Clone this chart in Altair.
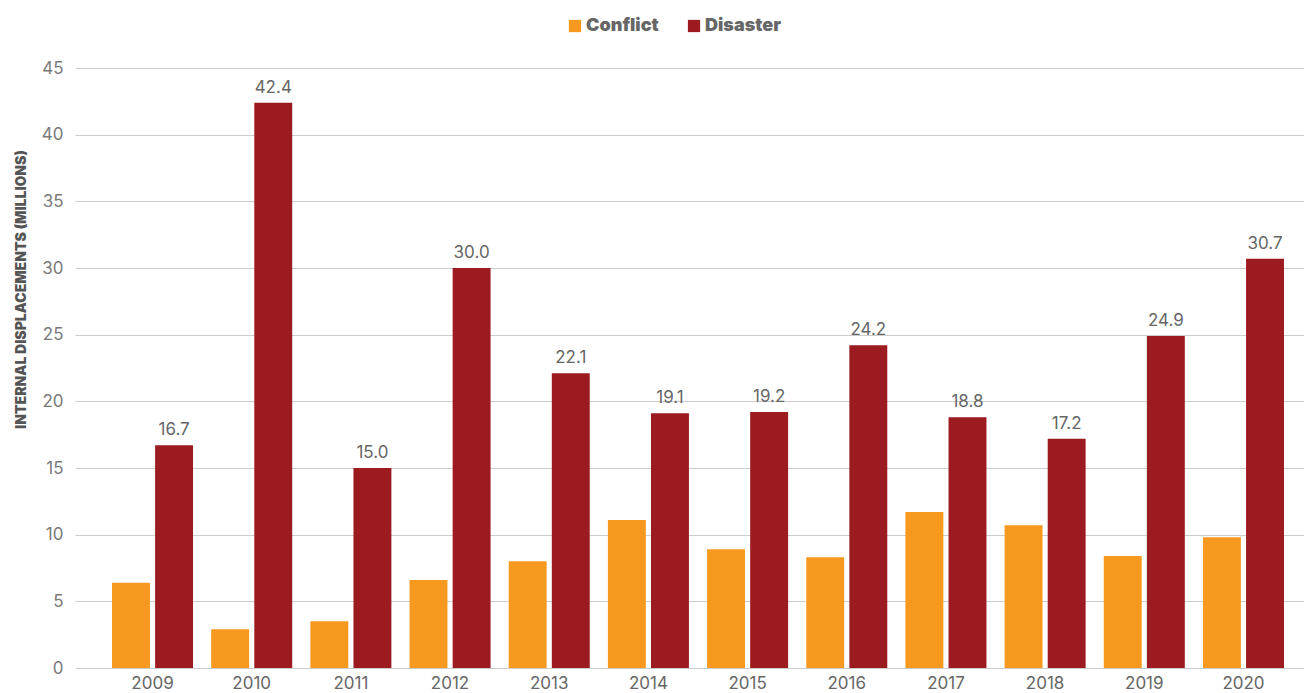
import altair as alt
import pandas as pd

years = ["2009", "2010", "2011", "2012", "2013", "2014", "2015", "2016", "2017", "2018", "2019", "2020"]
conflict = [6.4, 2.9, 3.5, 6.6, 8.0, 11.1, 8.9, 8.3, 11.7, 10.7, 8.4, 9.8]
disaster = [16.7, 42.4, 15.0, 30.0, 22.1, 19.1, 19.2, 24.2, 18.8, 17.2, 24.9, 30.7]
series = ["Conflict", "Disaster"]
colors = ["#F7991F", "#9B1B20"]

rows = []
for y, c, d in zip(years, conflict, disaster):
    rows.append({"year": y, "type": "Conflict", "value": c})
    rows.append({"year": y, "type": "Disaster", "value": d})
df = pd.DataFrame(rows)

FONT = "Inter"

x = alt.X("year:N", sort=years, title=None,
          scale=alt.Scale(paddingInner=0.183, paddingOuter=0.2875, align=0.649, round=False),
          axis=alt.Axis(labelAngle=0, labelFontSize=17, labelColor="#666666", labelFont=FONT,
                        domain=False, ticks=False, labelPadding=7, grid=False))
xo = alt.XOffset("type:N", scale=alt.Scale(domain=series, paddingInner=0.12))
y = alt.Y("value:Q", title="INTERNAL DISPLACEMENTS (MILLIONS)",
          scale=alt.Scale(domain=[0, 45], nice=False),
          axis=alt.Axis(values=list(range(0, 46, 5)), labelFontSize=17, labelColor="#7a7a7a",
                        labelFont=FONT, domain=False, ticks=False, labelPadding=12,
                        gridColor="#cccccc", gridWidth=1,
                        titleFont=FONT, titleFontSize=14, titleFontWeight=900,
                        titleColor="#555555", titleAngle=-90, titleAlign="center",
                        titleBaseline="alphabetic", titleX=-50, titleY=221))

bars = alt.Chart(df).mark_bar().encode(
    x=x, xOffset=xo, y=y,
    color=alt.Color("type:N", scale=alt.Scale(domain=series, range=colors),
                    legend=alt.Legend(title=None, orient="none", legendX=491, legendY=-51,
                                      direction="horizontal", symbolType="square",
                                      symbolSize=150, symbolStrokeWidth=0,
                                      labelFontSize=18, labelFontWeight=900,
                                      labelColor="#666666", labelFont=FONT,
                                      labelOffset=2, columnPadding=26))
)

labels = alt.Chart(df).transform_filter(alt.datum.type == "Disaster").mark_text(
    baseline="bottom", dy=-6, fontSize=17, color="#666666", font=FONT
).encode(x=x, xOffset=xo, y=y, text=alt.Text("value:Q", format=".1f"))

chart = alt.layer(bars, labels).properties(
    width=1229, height=600,
    autosize=alt.AutoSizeParams(type="none"),
    padding={"left": 67, "top": 60, "right": 0, "bottom": 25},
).configure_view(stroke=None)

chart.save("out.html", embed_options={"renderer": "svg", "actions": False})
